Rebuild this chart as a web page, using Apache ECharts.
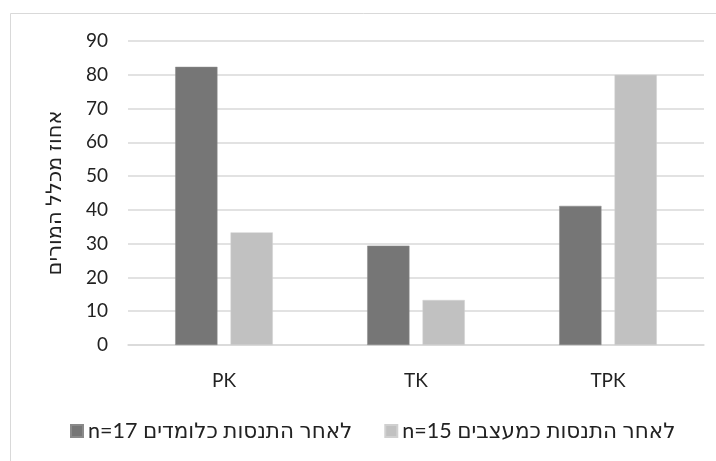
<!DOCTYPE html>
<html>
<head>
<meta charset="utf-8">
<script src="https://cdn.jsdelivr.net/npm/echarts@6/dist/echarts.min.js"></script>
<style>
  html, body { margin: 0; padding: 0; background: #fff; }
  #chart { width: 716px; height: 461px; }
</style>
</head>
<body>
<div id="chart"></div>
<script>
// Categories and series values (percent of all teachers)
const categories = ['PK', 'TK', 'TPK'];
const learnersName = 'n=17 לאחר התנסות כלומדים';
const learnersValues = [82.35, 29.41, 41.18];
const designersName = 'n=15 לאחר התנסות כמעצבים';
const designersValues = [33.33, 13.33, 80];
const yTicks = { min: 0, max: 90, interval: 10 };
const yTitle = 'אחוז מכלל המורים';

// Latin glyphs from Lato, Hebrew falls back to DejaVu Sans
const FONT = 'Lato, "DejaVu Sans", sans-serif';
const TEXT = '#222222';
const chart = echarts.init(document.getElementById('chart'), null, { renderer: 'canvas' });

chart.setOption({
  backgroundColor: '#ffffff',
  animation: false,
  textStyle: { fontFamily: FONT },
  graphic: [{
    type: 'rect',
    shape: { x: 10.5, y: 13.5, width: 720, height: 460 },
    style: { fill: 'none', stroke: '#d9d9d9', lineWidth: 1 },
    silent: true,
    z: -1
  }],
  grid: { left: 128, right: 12, top: 41, bottom: 116, containLabel: false },
  legend: {
    top: 415,
    left: 65,
    itemWidth: 12,
    itemHeight: 12,
    itemGap: 32,
    icon: 'rect',
    textStyle: { fontSize: 21.5, color: TEXT, fontFamily: FONT },
    data: [learnersName, designersName]
  },
  xAxis: {
    type: 'category',
    data: categories,
    axisLine: { lineStyle: { color: '#d9d9d9', width: 1.5 } },
    axisTick: { show: false },
    axisLabel: { fontSize: 19, color: TEXT, margin: 26 }
  },
  yAxis: {
    type: 'value',
    min: yTicks.min,
    max: yTicks.max,
    interval: yTicks.interval,
    name: yTitle,
    nameLocation: 'middle',
    nameRotate: 90,
    nameGap: 63,
    nameTextStyle: { fontSize: 21, color: TEXT },
    axisLine: { show: false },
    axisTick: { show: false },
    axisLabel: { fontSize: 19, color: TEXT, margin: 20 },
    splitLine: { lineStyle: { color: '#d9d9d9', width: 1.5 } }
  },
  series: [
    {
      name: learnersName,
      type: 'bar',
      data: learnersValues,
      barWidth: '22%',
      barGap: '31%',
      itemStyle: { color: '#767676', borderColor: '#8a8a8a', borderWidth: 0.5 }
    },
    {
      name: designersName,
      type: 'bar',
      data: designersValues,
      barWidth: '22%',
      itemStyle: { color: '#c1c1c1', borderColor: '#d0d0d0', borderWidth: 0.5 }
    }
  ]
});
</script>
</body>
</html>
